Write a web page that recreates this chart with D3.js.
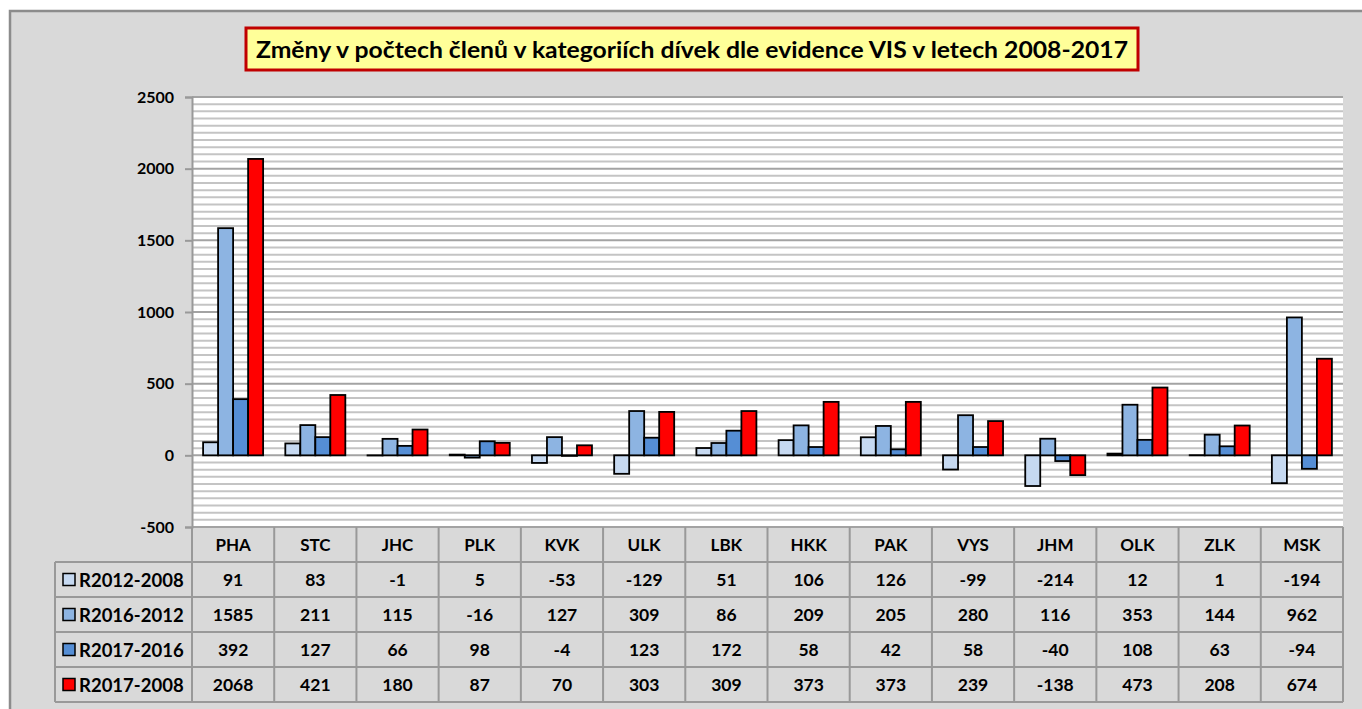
<!DOCTYPE html>
<html>
<head>
<meta charset="utf-8">
<script src="https://cdn.jsdelivr.net/npm/d3@7"></script>
<style>
  body { margin: 0; background: #fff; }
  svg { display: block; }
  text { font-family: Lato, "Open Sans", sans-serif; font-weight: bold; fill: #000; }
</style>
</head>
<body>
<svg id="chart" width="1362" height="709"></svg>
<script>
// data
var categories = ['PHA','STC','JHC','PLK','KVK','ULK','LBK','HKK','PAK','VYS','JHM','OLK','ZLK','MSK'];
var seriesNames = ['R2012-2008','R2016-2012','R2017-2016','R2017-2008'];
var r2012_2008 = [91, 83, -1, 5, -53, -129, 51, 106, 126, -99, -214, 12, 1, -194];
var r2016_2012 = [1585, 211, 115, -16, 127, 309, 86, 209, 205, 280, 116, 353, 144, 962];
var r2017_2016 = [392, 127, 66, 98, -4, 123, 172, 58, 42, 58, -40, 108, 63, -94];
var r2017_2008 = [2068, 421, 180, 87, 70, 303, 309, 373, 373, 239, -138, 473, 208, 674];
var yTicks = [-500, 0, 500, 1000, 1500, 2000, 2500];
var colors = ['#c6d9f1', '#8db4e2', '#558ed5', '#ff0000'];
var titleText = 'Změny v počtech členů v kategoriích dívek dle evidence VIS v letech 2008-2017';

var allSeries = [r2012_2008, r2016_2012, r2017_2016, r2017_2008];

var svg = d3.select('#chart');

// chart area background
svg.append('rect')
  .attr('x', 10).attr('y', 11)
  .attr('width', 1362).attr('height', 720)
  .attr('fill', '#d9d9d9')
  .attr('stroke', '#8c8c8c')
  .attr('stroke-width', 2.5);

var plotLeft = 192, plotRight = 1343, plotTop = 97, plotBottom = 527;

var y = d3.scaleLinear().domain([-500, 2500]).range([plotBottom, plotTop]);
var x = d3.scaleBand().domain(categories).range([plotLeft, plotRight])
  .paddingInner(0.27).paddingOuter(0.135);
var xs = d3.scaleBand().domain(d3.range(4)).range([0, x.bandwidth()]);
var col = d3.scaleBand().domain(categories).range([plotLeft, plotRight]);

// plot area
svg.append('rect')
  .attr('x', plotLeft).attr('y', plotTop)
  .attr('width', plotRight - plotLeft).attr('height', plotBottom - plotTop)
  .attr('fill', '#fff');

// minor gridlines every 50
var minor = d3.range(-500, 2501, 50).filter(function(v){ return v % 500 !== 0; });
svg.append('g').selectAll('line')
  .data(minor)
  .enter()
  .append('line')
  .attr('x1', plotLeft).attr('x2', plotRight)
  .attr('y1', function(d){ return y(d); })
  .attr('y2', function(d){ return y(d); })
  .attr('stroke', '#c4c4c4')
  .attr('stroke-width', 2);

// major gridlines
svg.append('g').selectAll('line')
  .data(yTicks)
  .enter()
  .append('line')
  .attr('x1', plotLeft).attr('x2', plotRight)
  .attr('y1', function(d){ return y(d); })
  .attr('y2', function(d){ return y(d); })
  .attr('stroke', '#a3a3a3')
  .attr('stroke-width', 2);

// y axis (plain hyphen for negatives, like the original)
var yAxis = svg.append('g')
  .attr('transform', 'translate(' + plotLeft + ',0)')
  .call(d3.axisLeft(y).tickValues(yTicks).tickSize(7).tickPadding(11)
    .tickFormat(function(d){ return String(d); }));
yAxis.select('.domain').attr('stroke', '#999').attr('stroke-width', 2);
yAxis.selectAll('.tick line').attr('stroke', '#999').attr('stroke-width', 2);
yAxis.selectAll('.tick text')
  .style('font-size', '16px')
  .style('font-family', 'Lato, sans-serif')
  .style('font-weight', 'bold')
  .attr('fill', '#000');

// bars
var groups = svg.append('g').selectAll('g')
  .data(categories)
  .enter()
  .append('g')
  .attr('transform', function(d){ return 'translate(' + x(d) + ',0)'; });

groups.selectAll('rect')
  .data(function(d, i){
    return allSeries.map(function(s, k){ return {k: k, v: s[i]}; });
  })
  .enter()
  .append('rect')
  .attr('x', function(d){ return xs(d.k); })
  .attr('width', xs.bandwidth())
  .attr('y', function(d){ return y(Math.max(0, d.v)); })
  .attr('height', function(d){ return Math.abs(y(d.v) - y(0)); })
  .attr('fill', function(d){ return colors[d.k]; })
  .attr('stroke', '#000')
  .attr('stroke-width', 1.8);

// data table
var rowH = 35;
var tableLeft = 55;
var headerTop = plotBottom, headerBottom = plotBottom + rowH;
var tableBottom = headerBottom + rowH * 4;
var grid = '#999';

var table = svg.append('g');

// category header labels
table.selectAll('text.cat')
  .data(categories)
  .enter()
  .append('text')
  .attr('class', 'cat')
  .attr('x', function(d){ return col(d) + col.bandwidth() / 2; })
  .attr('y', headerTop + rowH / 2 + 6)
  .attr('text-anchor', 'middle')
  .style('font-size', '17px')
  .text(function(d){ return d; });

// vertical lines of category columns
table.selectAll('line.v')
  .data(categories.concat(['end']))
  .enter()
  .append('line')
  .attr('x1', function(d){ return d === 'end' ? plotRight : col(d); })
  .attr('x2', function(d){ return d === 'end' ? plotRight : col(d); })
  .attr('y1', headerTop)
  .attr('y2', tableBottom)
  .attr('stroke', grid)
  .attr('stroke-width', 2);

// legend column left edge
table.append('line')
  .attr('x1', tableLeft).attr('x2', tableLeft)
  .attr('y1', headerBottom).attr('y2', tableBottom)
  .attr('stroke', grid).attr('stroke-width', 2);

// horizontal lines
table.selectAll('line.h')
  .data(d3.range(5))
  .enter()
  .append('line')
  .attr('x1', tableLeft).attr('x2', plotRight)
  .attr('y1', function(d){ return headerBottom + d * rowH; })
  .attr('y2', function(d){ return headerBottom + d * rowH; })
  .attr('stroke', grid)
  .attr('stroke-width', 2);

// rows
var rows = table.selectAll('g.row')
  .data(allSeries)
  .enter()
  .append('g')
  .attr('transform', function(d, k){ return 'translate(0,' + (headerBottom + k * rowH) + ')'; });

rows.append('rect')
  .attr('x', tableLeft + 8)
  .attr('y', rowH / 2 - 6)
  .attr('width', 12).attr('height', 12)
  .attr('fill', function(d, k){ return colors[k]; })
  .attr('stroke', '#000')
  .attr('stroke-width', 1.5);

rows.append('text')
  .attr('x', tableLeft + 24)
  .attr('y', rowH / 2 + 7)
  .style('font-size', '18.5px')
  .text(function(d, k){ return seriesNames[k]; });

rows.selectAll('text.val')
  .data(function(d){ return d; })
  .enter()
  .append('text')
  .attr('class', 'val')
  .attr('x', function(d, i){ return col(categories[i]) + col.bandwidth() / 2; })
  .attr('y', rowH / 2 + 6)
  .attr('text-anchor', 'middle')
  .style('font-size', '17.5px')
  .text(function(d){ return d; });

// title box
svg.append('rect')
  .attr('x', 246).attr('y', 28)
  .attr('width', 892).attr('height', 42)
  .attr('fill', '#ffff99')
  .attr('stroke', '#c00000')
  .attr('stroke-width', 3);

svg.append('text')
  .attr('x', 692).attr('y', 58)
  .attr('text-anchor', 'middle')
  .attr('textLength', 872)
  .attr('lengthAdjust', 'spacingAndGlyphs')
  .style('font-size', '23px')
  .text(titleText);
</script>
</body>
</html>
